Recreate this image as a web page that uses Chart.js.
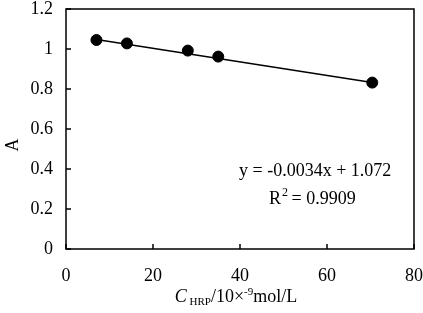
<!DOCTYPE html>
<html>
<head>
<meta charset="utf-8">
<script src="https://cdn.jsdelivr.net/npm/chart.js@4.4.0/dist/chart.umd.min.js"></script>
<style>
  body { margin: 0; background: #fff; }
  #wrap { width: 423px; height: 313px; }
</style>
</head>
<body>
<div id="wrap"><canvas id="grafico"></canvas></div>
<script>
// dados
var concHRP = [7, 14, 28, 35, 70.4];
var absorb = [1.045, 1.028, 0.992, 0.962, 0.832];
var trendX = [7, 70.4];
var trendY = [1.048, 0.833];
var xTicks = [0, 20, 40, 60, 80];
var yTicks = [0, 0.2, 0.4, 0.6, 0.8, 1, 1.2];
var equacao = 'y = -0.0034x + 1.072';
var r2Texto = '= 0.9909';

var fonte = '"Liberation Serif", "Times New Roman", serif';

function pares(xs, ys) {
    var out = [];
    for (var i = 0; i < xs.length; i++) out.push({ x: xs[i], y: ys[i] });
    return out;
}

// ticks para dentro, moldura e textos extras
var extras = {
    id: 'extras',
    afterDraw: function (chart) {
        var ctx = chart.ctx;
        var a = chart.chartArea;
        var sx = chart.scales.x, sy = chart.scales.y;
        ctx.save();
        ctx.strokeStyle = '#000';
        ctx.lineWidth = 1.5;
        ctx.strokeRect(a.left, a.top, a.right - a.left, a.bottom - a.top);
        ctx.beginPath();
        xTicks.forEach(function (v) {
            var px = sx.getPixelForValue(v);
            ctx.moveTo(px, a.bottom);
            ctx.lineTo(px, a.bottom - 5);
        });
        yTicks.forEach(function (v) {
            var py = sy.getPixelForValue(v);
            ctx.moveTo(a.left, py);
            ctx.lineTo(a.left + 5, py);
        });
        ctx.stroke();

        ctx.fillStyle = '#000';
        ctx.textBaseline = 'alphabetic';
        // equacao
        ctx.font = '18px ' + fonte;
        ctx.textAlign = 'left';
        ctx.fillText(equacao, 239, 176);
        ctx.fillText('R', 269, 204);
        var wR = ctx.measureText('R').width;
        ctx.font = '12px ' + fonte;
        ctx.fillText('2', 269 + wR + 1, 196);
        ctx.font = '18px ' + fonte;
        ctx.fillText(' ' + r2Texto, 269 + wR + 6, 204);

        // titulo do eixo x
        var partes = [
            { t: 'C', f: 'italic 18px ' + fonte, dy: 0 },
            { t: ' HRP', f: '11px ' + fonte, dy: 3 },
            { t: '/10\u00d7', f: '18px ' + fonte, dy: 0 },
            { t: '-9', f: '11px ' + fonte, dy: -7 },
            { t: 'mol/L', f: '18px ' + fonte, dy: 0 }
        ];
        var total = 0;
        partes.forEach(function (p) { ctx.font = p.f; total += ctx.measureText(p.t).width; });
        var x0 = 236 - total / 2;
        partes.forEach(function (p) {
            ctx.font = p.f;
            ctx.fillText(p.t, x0, 302 + p.dy);
            x0 += ctx.measureText(p.t).width;
        });

        // titulo do eixo y
        ctx.translate(18, 145);
        ctx.rotate(-Math.PI / 2);
        ctx.font = '18px ' + fonte;
        ctx.textAlign = 'center';
        ctx.fillText('A', 0, 0);
        ctx.restore();
    }
};

new Chart(document.getElementById('grafico'), {
    type: 'scatter',
    data: {
        datasets: [{
            label: 'A',
            data: pares(concHRP, absorb),
            backgroundColor: '#000',
            borderColor: '#000',
            pointRadius: 5.5,
            pointHoverRadius: 5.5
        }, {
            label: 'linear',
            type: 'line',
            data: pares(trendX, trendY),
            borderColor: '#000',
            borderWidth: 1.5,
            pointRadius: 0,
            fill: false
        }]
    },
    options: {
        responsive: true,
        maintainAspectRatio: false,
        animation: { duration: 0 },
        layout: { padding: { left: 0, right: 9, top: 9, bottom: 0 } },
        plugins: {
            legend: { display: false },
            tooltip: { enabled: false }
        },
        scales: {
            x: {
                type: 'linear',
                min: 0,
                max: 80,
                afterBuildTicks: function (s) { s.ticks = xTicks.map(function (v) { return { value: v }; }); },
                afterFit: function (s) { s.height = 64; s.paddingLeft = 0; s.paddingRight = 0; },
                grid: { display: false, drawTicks: false },
                border: { display: false },
                ticks: { color: '#000', font: { family: fonte, size: 18 }, padding: 16, maxRotation: 0 }
            },
            y: {
                min: 0,
                max: 1.2,
                afterBuildTicks: function (s) { s.ticks = yTicks.map(function (v) { return { value: v }; }); },
                afterFit: function (s) { s.width = 66; s.paddingTop = 0; s.paddingBottom = 0; },
                grid: { display: false, drawTicks: false },
                border: { display: false },
                ticks: {
                    color: '#000', font: { family: fonte, size: 18 }, padding: 13,
                    callback: function (v) { return String(v); }
                }
            }
        }
    },
    plugins: [extras]
});
</script>
</body>
</html>
